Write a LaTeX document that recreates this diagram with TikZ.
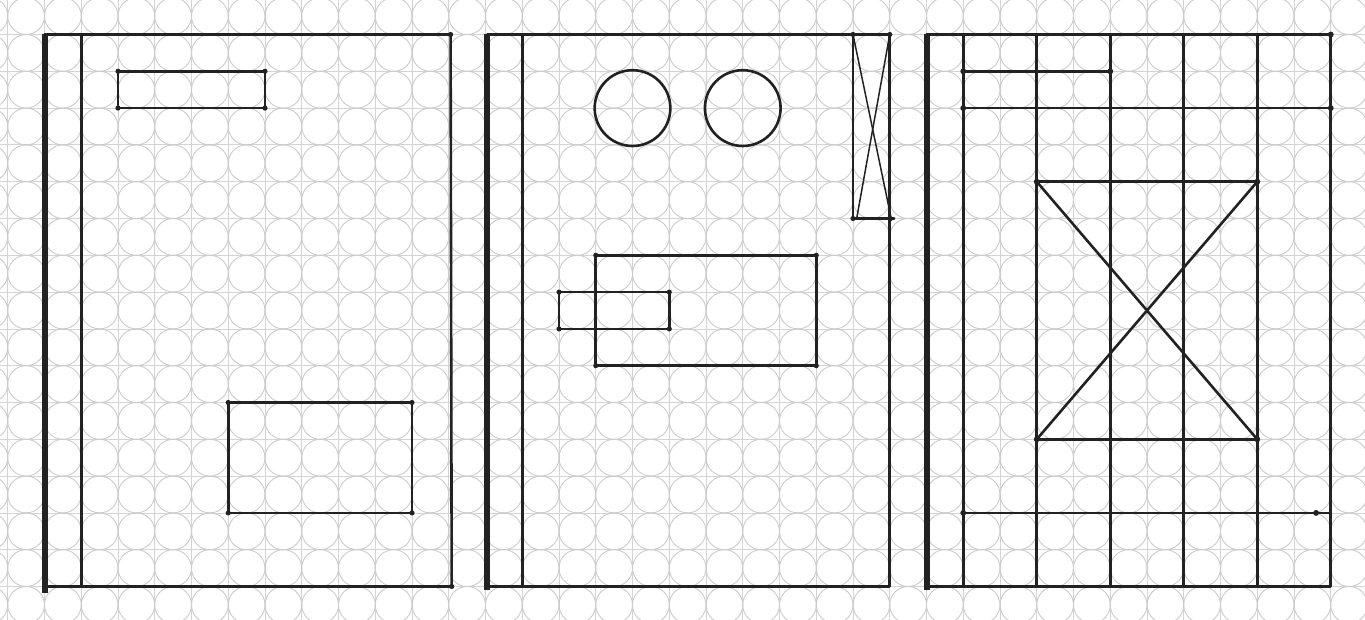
\documentclass[tikz,border=0pt]{standalone}
\definecolor{ink}{RGB}{34,34,34}
\definecolor{gridline}{RGB}{212,212,212}
\definecolor{gridcirc}{RGB}{204,204,204}
\tikzset{
  paperline/.style={draw=gridline, line width=0.8pt},
  papercirc/.style={draw=gridcirc, line width=0.9pt},
  pen/.style={draw=ink, line width=2.6pt, line cap=round, line join=round},
  finepen/.style={draw=ink, line width=1.5pt, line cap=round},
  heavypen/.style={draw=ink, line width=6pt, line cap=butt},
  inkdot/.style={fill=ink}
}
\begin{document}
\begin{tikzpicture}[x=1pt,y=-1pt]
\useasboundingbox (0,0) rectangle (1365,620);
\fill[white] (0,0) rectangle (1365,620);
\begin{scope}
\clip (0,0) rectangle (1365,620);
\begin{scope}[shift={(44.5pt,-34.5pt)}, x=36.75pt, y=-36.8pt]
  % paper grid
  \foreach \i in {-2,...,37} \draw[paperline] (\i,-2) -- (\i,17);
  \foreach \j in {-2,...,17} \draw[paperline] (-2,\j) -- (37,\j);
  \foreach \i in {-2,...,36} {
    \foreach \j in {-2,...,16} {
      \draw[papercirc] (\i+0.5,\j+0.5) circle[radius=0.5];
    }
  }
\end{scope}
\end{scope}
\begin{scope}[shift={(44.5pt,-34.5pt)}, x=36.75pt, y=-36.8pt]
  % ---------- panel 1 ----------
  \coordinate (p1tl) at (0,0);
  \coordinate (p1tr) at (11.05,0);
  \coordinate (p1br) at (11.08,15);
  \coordinate (p1bl) at (0,15);
  \draw[heavypen] (0,-0.02) -- (0,15.18);
  \draw[pen] (p1tl) -- (p1tr) -- (p1br) -- (p1bl);
  \draw[pen] (1,0) -- (1,15);
  \draw[pen] (2,1) rectangle (6,2);
  \draw[pen] (5,10) rectangle (10,13);
  \foreach \p in {(2,1),(6,1),(2,2),(6,2),(5,10),(10,10),(5,13),(10,13),(11.05,0),(11.08,15)}
    \fill[inkdot] \p circle[radius=0.07];
  % ---------- panel 2 ----------
  \coordinate (p2tl) at (12.05,0);
  \coordinate (p2tr) at (23,0);
  \coordinate (p2br) at (23,15);
  \coordinate (p2bl) at (12.05,15);
  \draw[heavypen] (12.05,-0.02) -- (12.05,15.1);
  \draw[pen] (p2tl) -- (p2tr) -- (p2br) -- (p2bl);
  \draw[pen] (13,0) -- (13,15);
  \draw[pen] (16,2) circle[radius=1.03];
  \draw[pen] (19,2) circle[radius=1.03];
  \draw[pen] (22,0) -- (22,5) -- (23.12,5);
  \draw[finepen] (22,0) -- (23.05,5.05);
  \draw[finepen] (23,0) -- (22.1,5);
  \draw[pen] (15,6) rectangle (21,9);
  \draw[pen] (14,7) rectangle (17,8);
  \foreach \p in {(15,6),(21,6),(15,9),(21,9),(14,7),(17,7),(14,8),(17,8),(22,5),(23,5),(22,0),(23,0)}
    \fill[inkdot] \p circle[radius=0.07];
  % ---------- panel 3 ----------
  \coordinate (p3tl) at (24,0);
  \coordinate (p3tr) at (35,0);
  \coordinate (p3br) at (35,15);
  \coordinate (p3bl) at (24,15);
  \draw[heavypen] (24,-0.02) -- (24,15.1);
  \draw[pen] (p3tl) -- (p3tr) -- (p3br) -- (p3bl);
  \foreach \i in {25,27,29,31,33} \draw[pen] (\i,0) -- (\i,15);
  \draw[pen] (25,1) -- (29,1);
  \draw[pen] (25,2) -- (35,2);
  \draw[pen] (27,4) -- (33,4);
  \draw[pen] (27,11) -- (33,11);
  \draw[pen] (27,4) -- (33,11);
  \draw[pen] (33,4) -- (27,11);
  \draw[pen] (25,13) -- (35,13);
  \foreach \p in {(25,1),(29,1),(25,2),(35,2),(27,4),(33,4),(27,11),(33,11),(25,13),(34.6,13),(35,0)}
    \fill[inkdot] \p circle[radius=0.08];
\end{scope}
\end{tikzpicture}
\end{document}
